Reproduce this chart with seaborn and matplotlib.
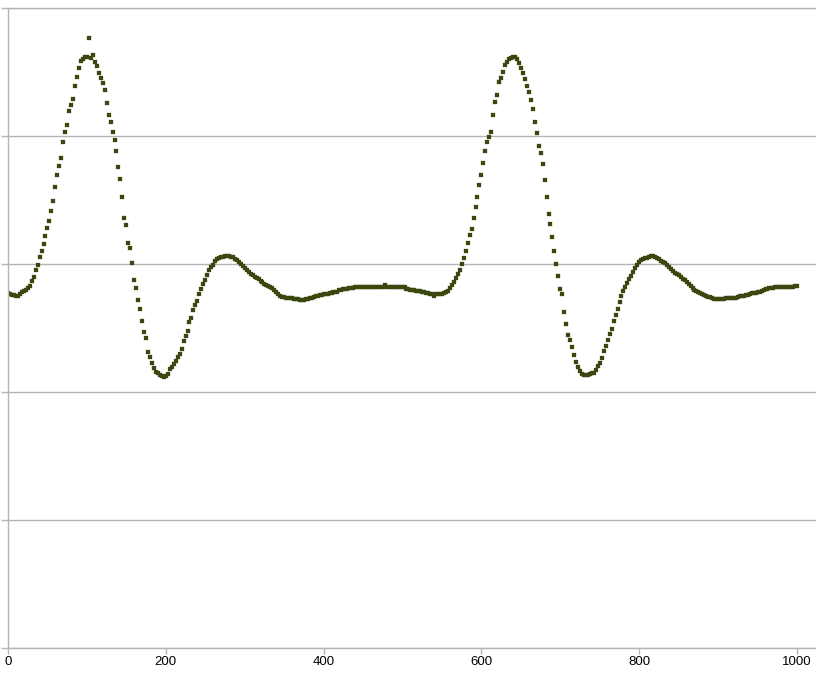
import matplotlib
matplotlib.use("Agg")
import matplotlib.pyplot as plt
import numpy as np
import pandas as pd
import seaborn as sns

# signal, one sample every 2.5 x-units (0 .. 1000)
sample_step = 2.5
signal = [
    355, 354, 353, 353, 352, 352, 354, 356, 357, 358,
    360, 362, 367, 371, 378, 383, 391, 397, 404, 412,
    420, 427, 437, 447, 461, 473, 482, 490, 506, 516,
    523, 537, 543, 549, 562, 571, 580, 587, 589, 591,
    591, 610, 590, 593, 586, 582, 575, 570, 565, 558,
    545, 533, 526, 516, 508, 497, 481, 469, 451, 430,
    423, 405, 400, 385, 368, 360, 348, 339, 327, 316,
    310, 296, 291, 285, 280, 276, 275, 273, 272, 271,
    272, 274, 279, 281, 284, 287, 291, 294, 299, 307,
    312, 317, 326, 330, 338, 343, 347, 354, 359, 364,
    368, 373, 378, 381, 383, 387, 389, 390, 391, 391,
    392, 392, 392, 391, 391, 389, 388, 386, 384, 382,
    380, 378, 376, 374, 373, 371, 370, 369, 367, 366,
    364, 363, 362, 361, 360, 358, 356, 354, 352, 351,
    351, 350, 350, 350, 350, 349, 349, 349, 348, 348,
    348, 349, 349, 350, 350, 351, 352, 352, 353, 353,
    354, 354, 354, 355, 355, 356, 356, 356, 358, 358,
    359, 359, 359, 360, 360, 360, 361, 361, 361, 361,
    361, 361, 361, 361, 361, 361, 361, 361, 361, 361,
    361, 363, 361, 361, 361, 361, 361, 361, 361, 361,
    361, 361, 359, 359, 358, 358, 358, 357, 357, 357,
    356, 356, 355, 355, 354, 354, 352, 354, 354, 354,
    354, 355, 356, 357, 360, 363, 366, 370, 374, 378,
    384, 390, 397, 405, 413, 419, 430, 441, 451, 463,
    473, 485, 497, 506, 511, 516, 533, 546, 553, 566,
    570, 576, 583, 586, 589, 590, 591, 591, 589, 585,
    580, 575, 569, 562, 556, 548, 539, 526, 515, 502,
    495, 484, 468, 451, 434, 424, 411, 397, 384, 372,
    359, 354, 336, 324, 313, 308, 301, 293, 286, 281,
    277, 274, 273, 273, 273, 274, 275, 275, 278, 282,
    285, 290, 297, 302, 308, 314, 319, 327, 333, 339,
    346, 352, 357, 361, 365, 369, 372, 376, 380, 383,
    386, 388, 389, 390, 390, 391, 392, 392, 391, 390,
    389, 387, 386, 385, 383, 381, 379, 377, 375, 374,
    373, 371, 369, 368, 366, 364, 362, 360, 358, 357,
    356, 355, 354, 353, 352, 351, 351, 350, 349, 349,
    349, 349, 349, 349, 350, 350, 350, 350, 350, 350,
    351, 352, 352, 352, 353, 353, 354, 355, 355, 355,
    356, 356, 357, 358, 359, 359, 360, 360, 360, 361,
    361, 361, 361, 361, 361, 361, 361, 361, 361, 362,
    362,
]
x_ticks = [0, 200, 400, 600, 800, 1000]
y_ticks = [0, 128, 256, 384, 512, 640]

df = pd.DataFrame({
    "x": np.arange(len(signal)) * sample_step,
    "y": signal,
})

sns.set_style("white")
plt.rcParams["font.family"] = ["Liberation Sans", "DejaVu Sans"]

fig = plt.figure(figsize=(8.16, 6.78), dpi=100)
ax = fig.add_axes([8 / 816, 30 / 678, 808 / 816, 640 / 678])

grid_col = "#b4b4b4"
ax.set_axisbelow(True)
ax.grid(axis="y", color=grid_col, linewidth=1.0)
ax.grid(axis="x", visible=False)

sns.scatterplot(
    data=df, x="x", y="y", ax=ax,
    marker="s", s=5.5, color="#3a4810", edgecolor="#3a4810",
    linewidth=0.2, legend=False,
)

ax.set_xlim(0, 1024)
ax.set_ylim(0, 640)
ax.set_xticks(x_ticks)
ax.set_yticks(y_ticks)
ax.set_yticklabels([])
ax.set_xlabel("")
ax.set_ylabel("")

ax.tick_params(axis="x", direction="out", length=4, width=1.0, color=grid_col,
               labelsize=9.5, labelcolor="black", pad=2, bottom=True)
ax.tick_params(axis="y", direction="out", length=5, width=1.0, color=grid_col,
               left=True)

for side in ["left", "bottom", "top"]:
    ax.spines[side].set_color(grid_col)
    ax.spines[side].set_linewidth(1.0)
ax.spines["right"].set_visible(False)

fig.savefig("out.png", dpi=100)
